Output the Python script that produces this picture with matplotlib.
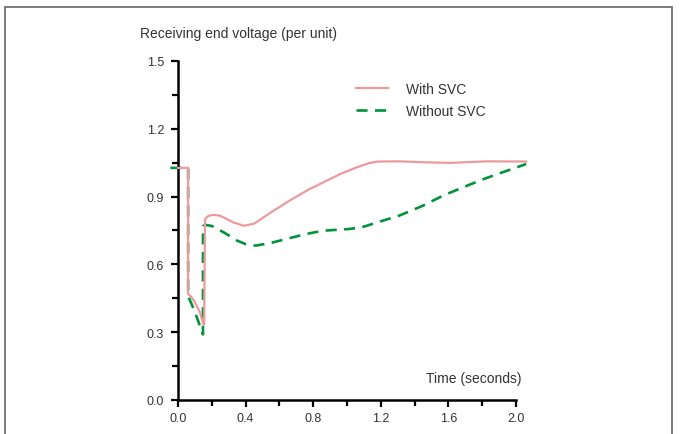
import matplotlib.pyplot as plt
from matplotlib.patches import Rectangle

plt.rcParams.update(
    {
        "font.family": ["Liberation Sans", "DejaVu Sans"],
        "font.size": 10,
        "text.color": "#333333",
        "xtick.labelsize": 9,
        "ytick.labelsize": 9,
        "xtick.color": "#000000",
        "ytick.color": "#000000",
        "xtick.labelcolor": "#333333",
        "ytick.labelcolor": "#333333",
    }
)

# Receiving end voltage (per unit) vs time (s)
t_svc = [0.0, 0.06, 0.06, 0.08, 0.10, 0.13, 0.15, 0.155, 0.16, 0.18, 0.21, 0.25, 0.29, 0.33,
         0.39, 0.45, 0.55, 0.66, 0.77, 0.86, 0.96, 1.06, 1.13, 1.18, 1.31, 1.45, 1.61, 1.83, 2.06]
v_svc = [1.027, 1.027, 0.469, 0.455, 0.432, 0.388, 0.335, 0.335, 0.80, 0.815, 0.819, 0.815, 0.80, 0.785,
         0.771, 0.78, 0.83, 0.882, 0.93, 0.963, 1.0, 1.03, 1.048, 1.055, 1.056, 1.052, 1.049, 1.056, 1.055]

t_nosvc = [-0.045, 0.0, 0.06, 0.06, 0.10, 0.14, 0.148, 0.148, 0.17, 0.20, 0.27, 0.35,
           0.40, 0.46, 0.55, 0.66, 0.76, 0.86, 1.02, 1.10, 1.18, 1.31, 1.45, 1.57, 1.70, 1.81, 1.93, 2.06]
v_nosvc = [1.027, 1.027, 1.027, 0.46, 0.39, 0.307, 0.29, 0.77, 0.774, 0.77, 0.742, 0.705,
           0.69, 0.683, 0.695, 0.716, 0.735, 0.749, 0.757, 0.767, 0.786, 0.816, 0.86, 0.905, 0.945, 0.978, 1.01, 1.044]

x_ticks = [0.0, 0.4, 0.8, 1.2, 1.6, 2.0]
y_ticks = [0.0, 0.3, 0.6, 0.9, 1.2, 1.5]

pink = "#ec9a9e"
green = "#00933c"

fig = plt.figure(figsize=(6.84, 4.35), dpi=100)
ax = fig.add_axes([0.2602, 0.0782, 0.4942, 0.7793])

ax.plot(t_svc, v_svc, color=pink, linewidth=1.6, label="With SVC", clip_on=False, zorder=3)
ax.plot(t_nosvc, v_nosvc, color=green, linewidth=1.9, linestyle=(0, (4.2, 2.8)),
        label="Without SVC", clip_on=False, zorder=2)

ax.set_xlim(0, 2.0)
ax.set_ylim(0, 1.5)
ax.set_xticks(x_ticks)
ax.set_yticks(y_ticks)
ax.set_xticklabels([f"{v:.1f}" for v in x_ticks])
ax.set_yticklabels([f"{v:.1f}" for v in y_ticks])
ax.set_xticks([0.2, 0.6, 1.0, 1.4, 1.8], minor=True)
ax.set_yticks([0.15, 0.45, 0.75, 1.05, 1.35], minor=True)
ax.tick_params(which="major", direction="out", length=5, width=1.6)
ax.tick_params(axis="y", which="major", pad=5)
ax.tick_params(axis="x", which="major", pad=4)
ax.tick_params(which="minor", direction="out", length=4, width=1.6)

for side in ("top", "right"):
    ax.spines[side].set_visible(False)
for side in ("left", "bottom"):
    ax.spines[side].set_linewidth(1.8)

fig.text(140 / 684, 1 - 34 / 435, "Receiving end voltage (per unit)", ha="left", va="center", fontsize=10)
ax.text(1.015, 0.045, "Time (seconds)", transform=ax.transAxes, ha="right", va="bottom", fontsize=10)

ax.legend(loc="upper left", bbox_to_anchor=(0.49, 0.975), frameon=False, fontsize=10,
          handlelength=2.3, handletextpad=1.3, labelspacing=0.55)

# thin grey frame around the figure
fig.patches.append(Rectangle((5 / 684, -0.05), 667 / 684, 1.05 - 8 / 435, transform=fig.transFigure,
                             fill=False, edgecolor="#666666", linewidth=1.2))

fig.savefig("out.png", dpi=100)
